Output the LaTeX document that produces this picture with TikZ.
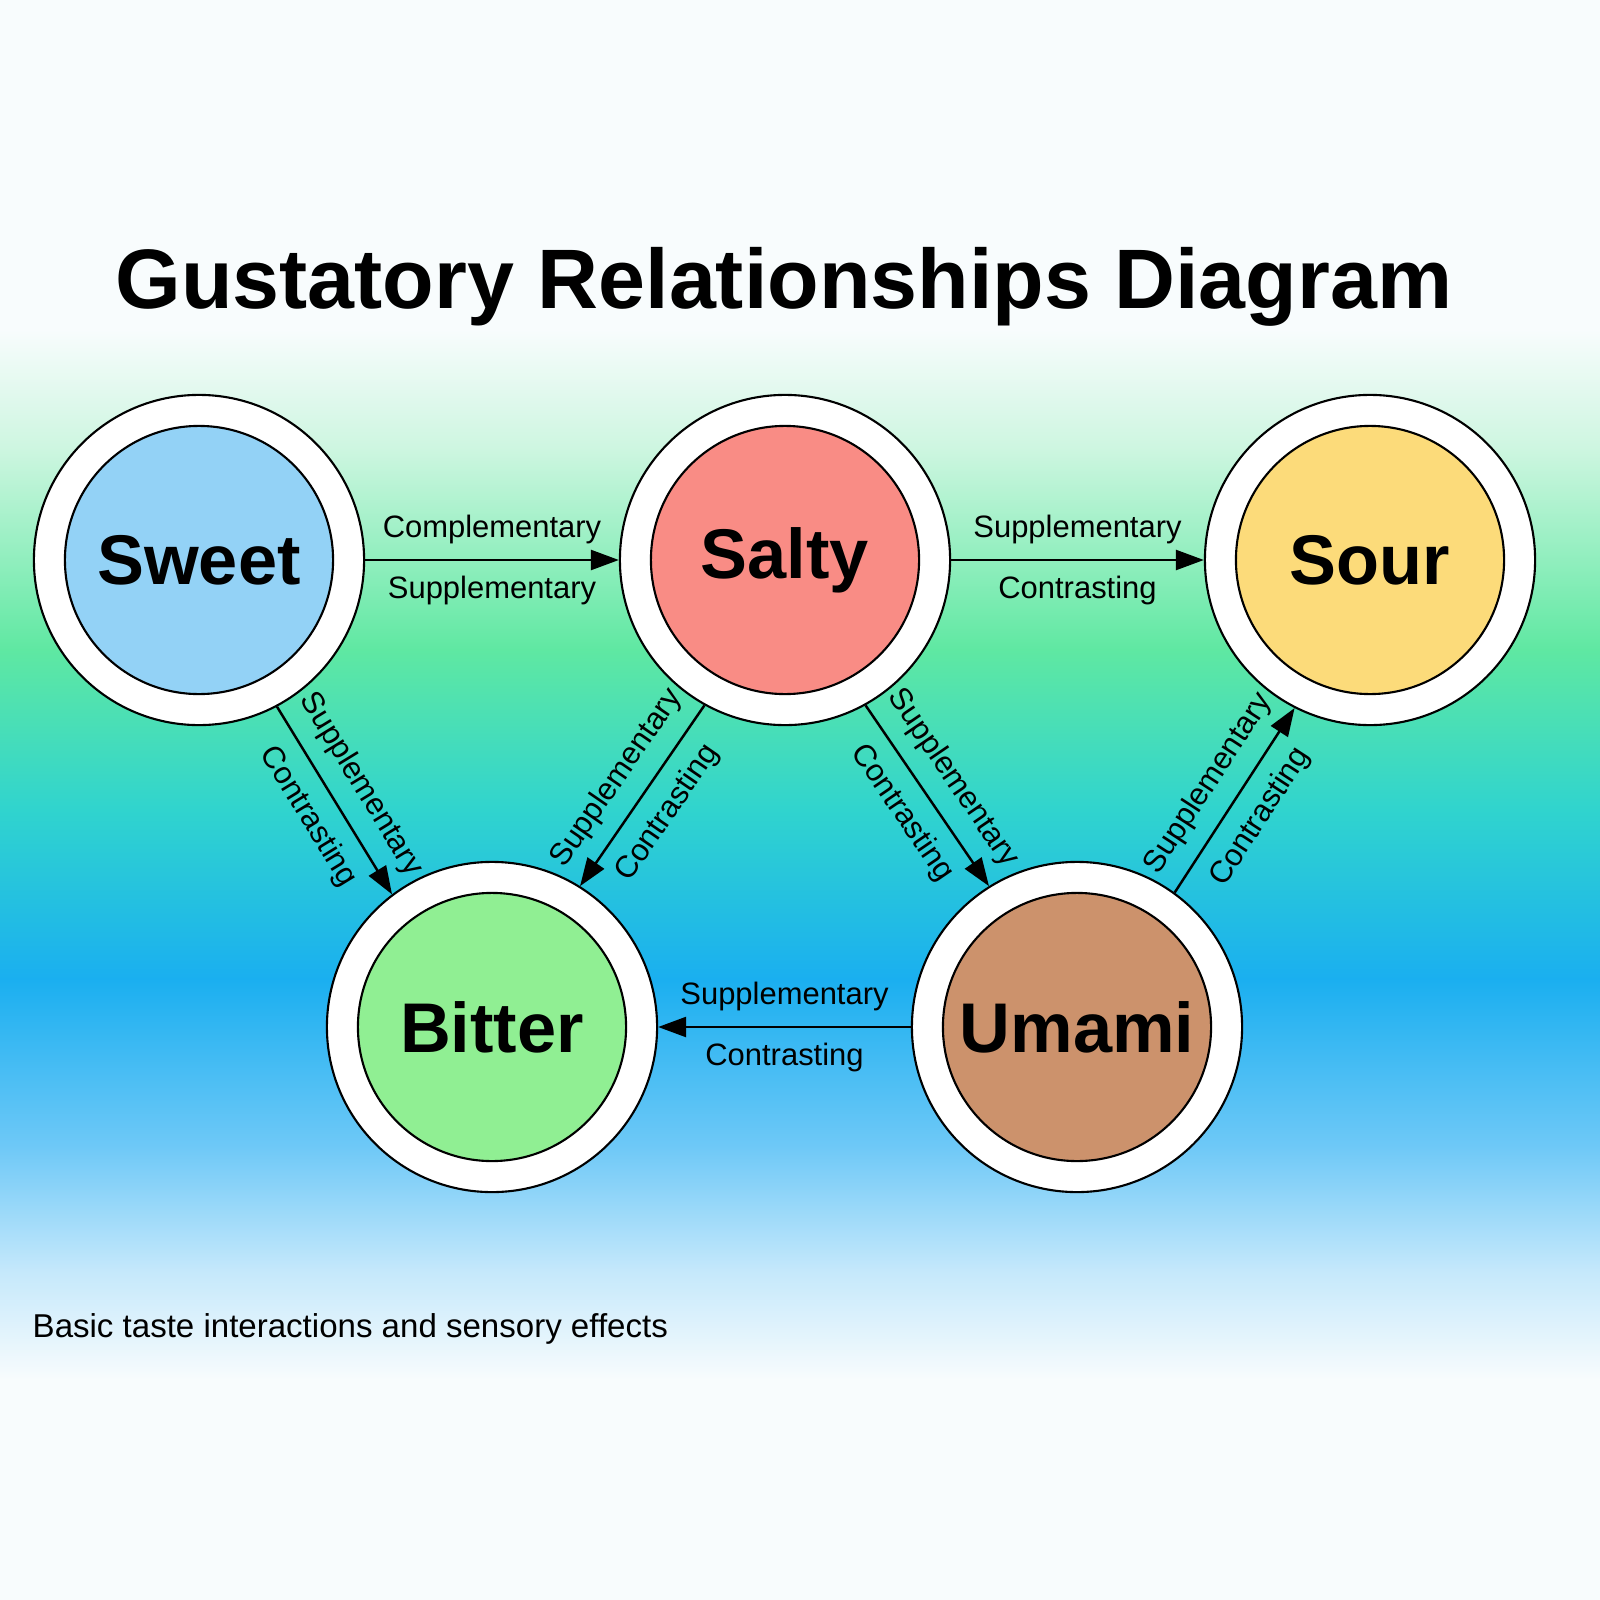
\documentclass[tikz,border=0pt]{standalone}
\usepackage{fontspec}
\setmainfont{Liberation Sans}
\usetikzlibrary{arrows.meta}
\definecolor{bgtop}{HTML}{F8FCFD}
\definecolor{bgmint}{HTML}{CDF6E0}
\definecolor{bggreen}{HTML}{5FE8A2}
\definecolor{bgteal}{HTML}{30D4CE}
\definecolor{bgblue}{HTML}{1AAFF0}
\definecolor{bgsky}{HTML}{70C9F7}
\definecolor{bgpale}{HTML}{C4E8FB}
\definecolor{sweetc}{HTML}{93D2F6}
\definecolor{saltyc}{HTML}{F98C85}
\definecolor{sourc}{HTML}{FCDB7A}
\definecolor{bitterc}{HTML}{90EF93}
\definecolor{umamic}{HTML}{CC926C}
\begin{document}
\begin{tikzpicture}[x=0.01cm,y=-0.01cm,
  ring/.style={circle, draw, line width=0.6pt, fill=white, minimum size=3.3cm, inner sep=0pt},
  taste/.style={circle, draw, line width=0.6pt, minimum size=2.68cm, inner sep=0pt,
    font=\fontsize{20}{20}\selectfont\bfseries},
  link/.style={-{Triangle[length=0.28cm,width=0.2cm]}, line width=0.7pt},
  lbl/.style={font=\fontsize{8.8}{8.8}\selectfont, midway, sloped}]
\useasboundingbox (0,0) rectangle (1600,1600);
% background bands
\fill[bgtop] (0,0) rectangle (1600,330);
\fill[top color=bgtop, bottom color=bgmint] (0,329) rectangle (1600,450);
\fill[top color=bgmint, bottom color=bggreen] (0,449) rectangle (1600,650);
\fill[top color=bggreen, bottom color=bgteal] (0,649) rectangle (1600,810);
\fill[top color=bgteal, bottom color=bgblue] (0,809) rectangle (1600,980);
\fill[top color=bgblue, bottom color=bgsky] (0,979) rectangle (1600,1150);
\fill[top color=bgsky, bottom color=bgpale] (0,1149) rectangle (1600,1270);
\fill[top color=bgpale, bottom color=bgtop] (0,1269) rectangle (1600,1380);
\fill[bgtop] (0,1379) rectangle (1600,1600);

\node[font=\fontsize{24}{24}\selectfont\bfseries] (title) at (784,287) {Gustatory Relationships Diagram};

\node[ring] (sweet) at (199,560) {};
\node[taste, fill=sweetc] (sweetin) at (sweet) {Sweet};
\node[ring] (salty) at (785,560) {};
\node[taste, fill=saltyc] (saltyin) at (salty) {Salty};
\node[ring] (sour) at (1370,560) {};
\node[taste, fill=sourc] (sourin) at (sour) {Sour};
\node[ring] (bitter) at (492,1027) {};
\node[taste, fill=bitterc] (bitterin) at (bitter) {Bitter};
\node[ring] (umami) at (1077,1027) {};
\node[taste, fill=umamic] (umamiin) at (umami) {Umami};

\draw[link] (sweet) -- (salty) node[lbl, above=1pt] {Complementary} node[lbl, below=1pt] {Supplementary};
\draw[link] (salty) -- (sour) node[lbl, above=1pt] {Supplementary} node[lbl, below=1pt] {Contrasting};
\draw[link] (sweet.-62) -- (bitter.127) node[lbl, above=1pt] {Supplementary} node[lbl, below=1pt] {Contrasting};
\draw[link] (salty.241) -- (bitter.58) node[lbl, above=1pt] {Supplementary} node[lbl, below=1pt] {Contrasting};
\draw[link] (salty.-61) -- (umami.122) node[lbl, above=1pt] {Supplementary} node[lbl, below=1pt] {Contrasting};
\draw[link] (umami.54) -- (sour.243) node[lbl, above=1pt] {Supplementary} node[lbl, below=1pt] {Contrasting};
\draw[link] (umami) -- (bitter) node[lbl, above=1pt] {Supplementary} node[lbl, below=1pt] {Contrasting};

\node[font=\fontsize{9.4}{9.4}\selectfont, anchor=base west, inner sep=0pt] (caption) at (32,1337) {Basic taste interactions and sensory effects};
\end{tikzpicture}
\end{document}
